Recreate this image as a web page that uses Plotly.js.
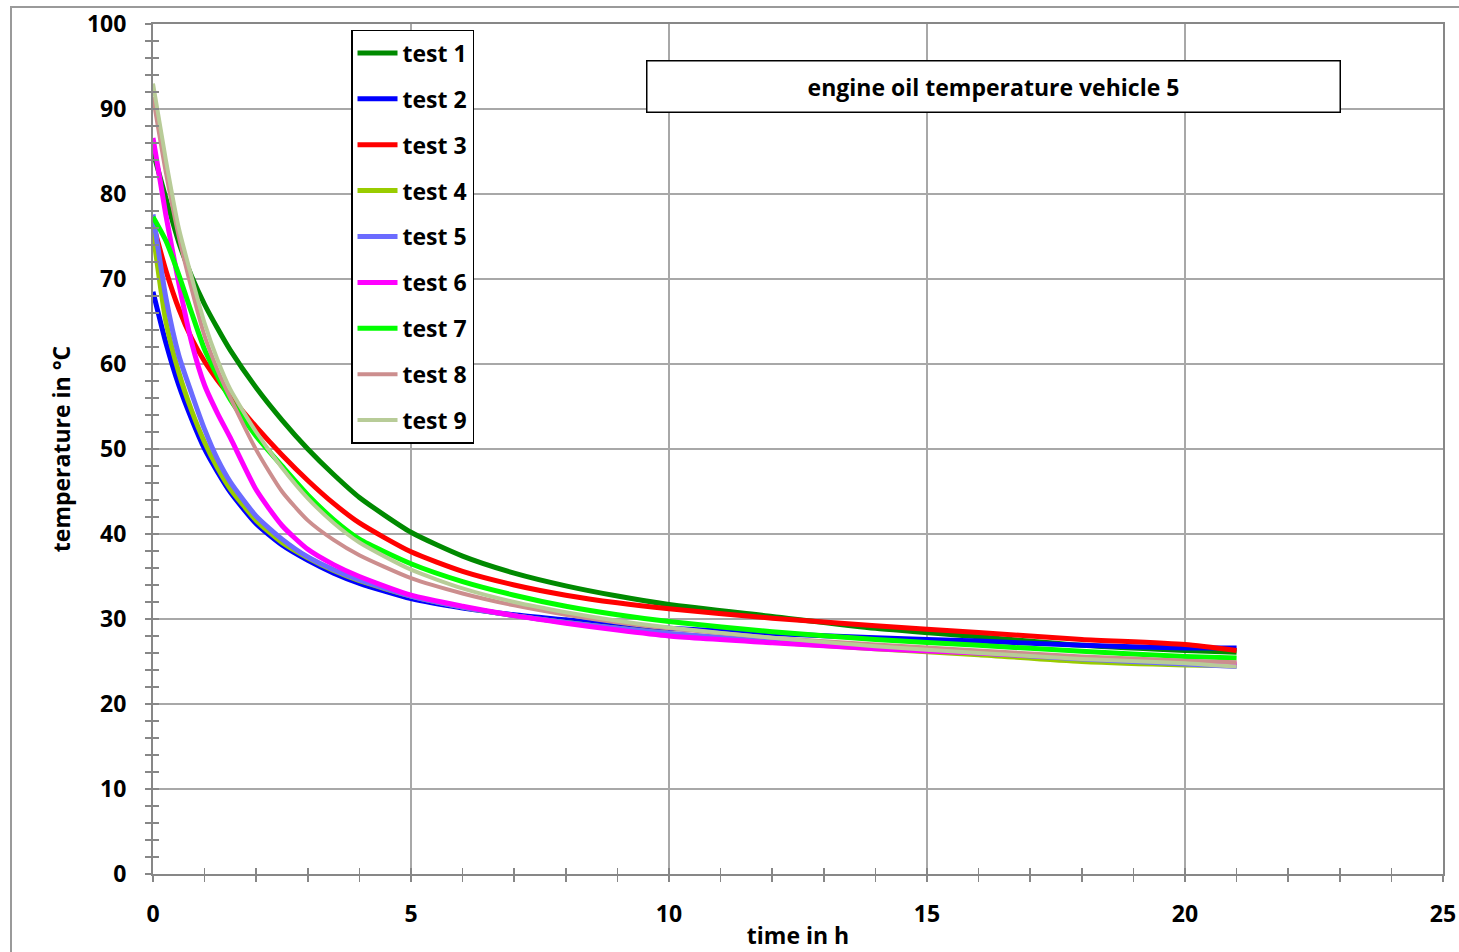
<!DOCTYPE html>
<html>
<head>
<meta charset="utf-8">
<script src="https://cdn.plot.ly/plotly-3.0.1.min.js"></script>
<style>
html,body{margin:0;padding:0;background:#fff;overflow:hidden;}
#chart{width:1459px;height:952px;}
#frame{position:absolute;left:10px;top:6px;width:1470px;height:970px;border:2px solid #9a9a9a;pointer-events:none;}
</style>
</head>
<body>
<div id="chart"></div>
<div id="frame"></div>
<script>
const time = [0,0.25,0.5,0.75,1,1.25,1.5,2,2.5,3,3.5,4,5,6,7,8,9,10,12,14,16,18,20,21];
const test1 = [85,79.5,74.3,70.3,67,64.2,61.6,57.2,53.4,50.0,47.0,44.3,40.2,37.4,35.4,33.9,32.7,31.7,30.3,28.9,27.9,26.9,26.3,26.1];
const test2 = [68.5,62.5,57.5,53.5,50,47.3,44.9,41.2,38.7,36.9,35.4,34.2,32.4,31.3,30.5,29.9,29.3,28.9,28.3,27.8,27.4,26.9,26.6,26.6];
const test3 = [76.5,71,66.5,63,60.3,58.1,56.2,52.6,49.3,46.3,43.6,41.3,37.9,35.6,34,32.8,31.9,31.2,30.1,29.2,28.4,27.6,27.0,26.3];
const test4 = [75.5,65,59,54.5,50.8,47.8,45.3,41.6,39,37.2,35.7,34.5,32.7,31.4,30.4,29.6,28.9,28.3,27.3,26.5,25.8,25,24.6,24.5];
const test5 = [77.6,67.8,61,56.5,52.3,48.8,46.1,42.1,39.4,37.3,35.8,34.6,32.7,31.4,30.4,29.6,28.9,28.3,27.4,26.7,26,25.3,24.7,24.4];
const test6 = [86.6,77.5,69.5,62.5,57.5,54.2,51.3,45.2,41,38.2,36.4,35,32.8,31.5,30.4,29.5,28.7,28,27.2,26.5,26,25.4,25,24.7];
const test7 = [77.3,74.5,70.5,66,61.7,58.6,55.8,51.5,48,44.6,41.7,39.4,36.5,34.4,32.8,31.5,30.5,29.7,28.5,27.6,26.9,26.2,25.6,25.4];
const test8 = [91.4,82.5,75,68.8,63.3,59.3,56,49.9,45,41.6,39.3,37.5,34.8,33,31.6,30.5,29.6,28.9,27.8,27,26.3,25.6,25.1,24.9];
const test9 = [93,84,76,70.2,64.8,60.5,57,52,47.8,44.2,41.3,39,35.8,33.6,32,30.8,29.8,29,27.8,26.8,26,25.3,24.8,24.4];

const names = ["test 1","test 2","test 3","test 4","test 5","test 6","test 7","test 8","test 9"];
const series = [test1,test2,test3,test4,test5,test6,test7,test8,test9];
const colors = ["#008A00","#0000FF","#FF0000","#99CC00","#6B6BFF","#FF00FF","#00FF00","#CC8E8E","#B8CC98"];
const widths = [5,5,5,5,5,5,5,4,4];

const xTicks = [0,5,10,15,20,25];
const yTicks = [0,10,20,30,40,50,60,70,80,90,100];

const FONT = "'Open Sans', Lato, sans-serif";
const AX = "#878787";
const GRID = "#A8A8A8";

const traces = series.map((s,i)=>({
  x: time, y: s, name: names[i], type: "scatter", mode: "lines",
  line: {color: colors[i], width: widths[i], shape: "spline", smoothing: 0.6},
  legendgroup: "g"+i, hoverinfo: "skip"
}));
traces.push({x: [], y: [], xaxis: "x2", yaxis: "y2", showlegend: false, hoverinfo: "skip", type: "scatter", mode: "lines"});

const layout = {
  width: 1459, height: 952,
  margin: {l: 153, r: 16, t: 24, b: 78},
  paper_bgcolor: "#fff", plot_bgcolor: "#fff",
  font: {family: FONT, color: "#000"},
  showlegend: true,
  legend: {
    x: 0.1535, y: 0.993, xanchor: "left", yanchor: "top",
    bordercolor: "#000", borderwidth: 1.5, bgcolor: "#fff",
    font: {family: FONT, size: 23, color: "#000", weight: "bold"},
    tracegroupgap: 13, itemwidth: 40
  },
  xaxis: {
    range: [0,25], tickvals: xTicks, ticktext: xTicks.map(String),
    showgrid: true, gridcolor: GRID, gridwidth: 1.5,
    showline: true, linecolor: AX, linewidth: 2, mirror: true,
    ticks: "outside", ticklen: 6, tickwidth: 1.5, tickcolor: AX,
    minor: {dtick: 1, ticks: "outside", ticklen: 6, tickwidth: 1.5, tickcolor: AX, showgrid: false},
    zeroline: false, ticklabelstandoff: 12,
    tickfont: {family: FONT, size: 23, color: "#000", weight: "bold"},
    title: {text: "time in h", font: {family: FONT, size: 23, color: "#000", weight: "bold"}, standoff: 0}
  },
  yaxis: {
    range: [0,100], tickvals: yTicks, ticktext: yTicks.map(String),
    showgrid: true, gridcolor: GRID, gridwidth: 1.5,
    showline: true, linecolor: AX, linewidth: 2, mirror: true,
    ticks: "outside", ticklen: 6, tickwidth: 1.5, tickcolor: AX,
    minor: {dtick: 2, ticks: "outside", ticklen: 6, tickwidth: 1.5, tickcolor: AX, showgrid: false},
    zeroline: false, ticklabelstandoff: 14,
    tickfont: {family: FONT, size: 23, color: "#000", weight: "bold"},
    title: {text: "temperature in °C", font: {family: FONT, size: 23, color: "#000", weight: "bold"}, standoff: 10}
  },
  xaxis2: {
    overlaying: "x", anchor: "y2", range: [0,25], dtick: 1, ticks: "inside", ticklen: 6, tickwidth: 1.5, tickcolor: AX,
    showticklabels: false, showgrid: false, showline: false, zeroline: false
  },
  yaxis2: {
    overlaying: "y", anchor: "x2", range: [0,100], dtick: 2, ticks: "inside", ticklen: 6, tickwidth: 1.5, tickcolor: AX,
    showticklabels: false, showgrid: false, showline: false, zeroline: false
  },
  annotations: [{
    text: "engine oil temperature vehicle 5", xref: "paper", yref: "paper",
    x: 0.6515, y: 0.927, xanchor: "center", yanchor: "middle", showarrow: false,
    width: 690, height: 48, bordercolor: "#000", borderwidth: 1.5, bgcolor: "#fff",
    font: {family: FONT, size: 23, color: "#000", weight: "bold"}
  }]
};

Plotly.newPlot("chart", traces, layout, {displayModeBar: false, staticPlot: true});
</script>
</body>
</html>
